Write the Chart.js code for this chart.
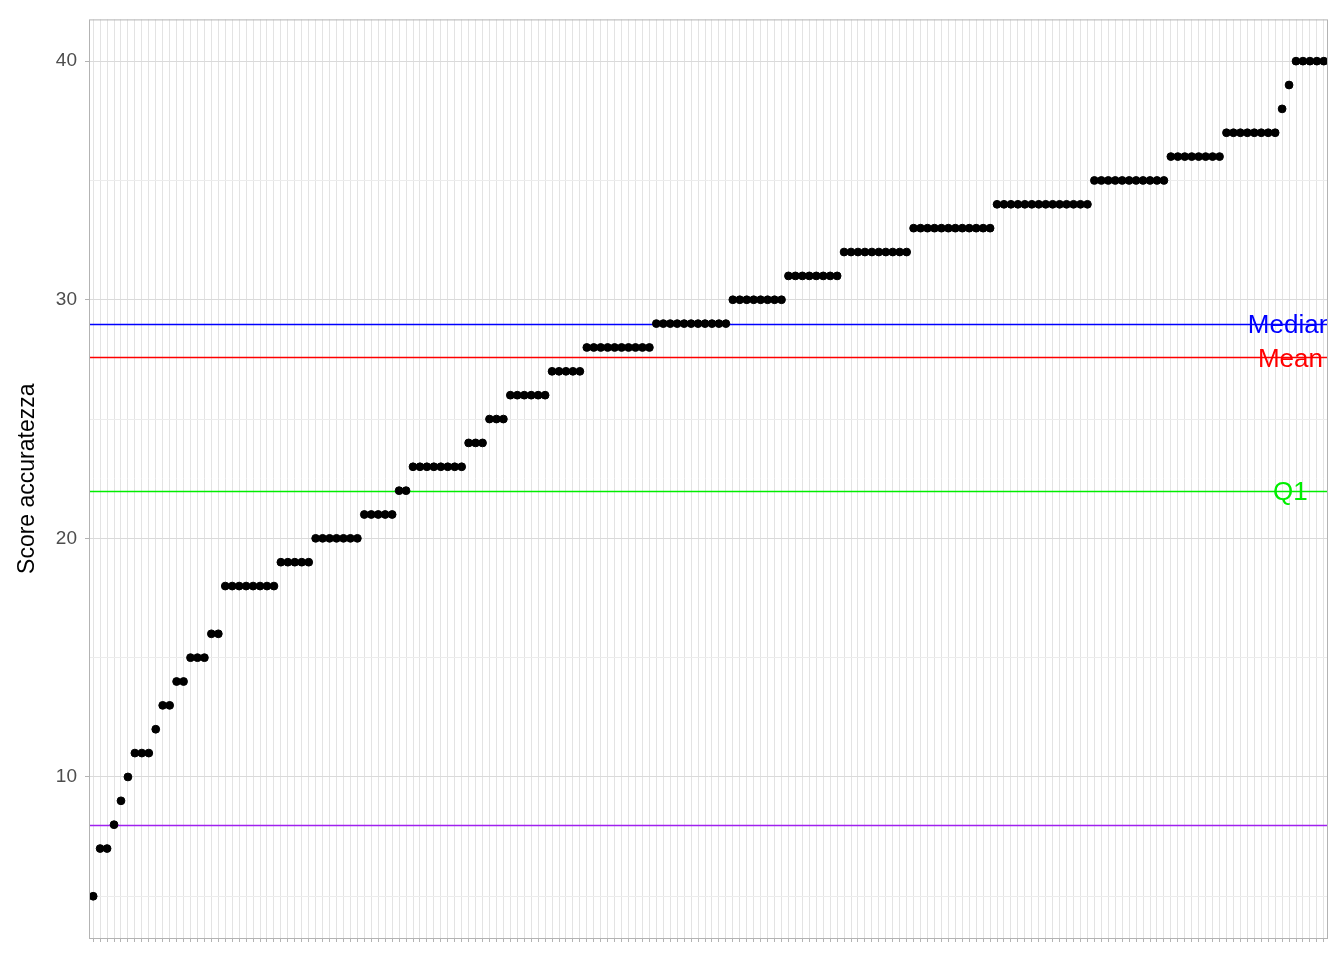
<!DOCTYPE html>
<html><head><meta charset="utf-8">
<script src="https://cdn.jsdelivr.net/npm/chart.js@4/dist/chart.umd.min.js"></script>
<style>html,body{margin:0;padding:0;background:#fff}#wrap{width:1344px;height:960px}</style>
</head><body><div id="wrap"><canvas id="c" width="1344" height="960"></canvas></div>
<script>
const scoreValues = [5,7,8,9,10,11,12,13,14,15,16,18,19,20,21,22,23,24,25,26,27,28,29,30,31,32,33,34,35,36,37,38,39,40];
const scoreCounts = [1,2,1,1,1,3,1,2,2,3,2,8,5,7,5,2,8,3,3,6,5,10,11,8,8,10,12,14,11,8,8,1,1,5];
const refLabels = ['Median','Mean','Q1',''];
const refValues = [29,27.58,22,8];
const refColors = ['#0000ff','#ff0000','#00ee00','#a020f0'];
const yTicks = [10,20,30,40];

const scores = [];
scoreValues.forEach((v,i)=>{for(let k=0;k<scoreCounts[i];k++)scores.push(v);});
const pts = scores.map((v,i)=>({x:i+1,y:v}));
const N = scores.length;

const refPlugin = {
  id:'ref',
  beforeDatasetsDraw(chart){
    const {ctx,chartArea:a,scales:{x,y}} = chart;
    ctx.save();
    ctx.beginPath();ctx.rect(a.left,a.top,a.right-a.left,a.bottom-a.top);ctx.clip();
    refValues.forEach((v,i)=>{
      const py = Math.round(y.getPixelForValue(v))+0.5;
      ctx.strokeStyle=refColors[i];ctx.lineWidth=1.5;
      ctx.beginPath();ctx.moveTo(a.left,py);ctx.lineTo(a.right,py);ctx.stroke();
    });
    ctx.restore();
  },
  afterDatasetsDraw(chart){
    const {ctx,chartArea:a,scales:{x,y}} = chart;
    ctx.save();
    ctx.beginPath();ctx.rect(a.left,a.top,a.right-a.left,a.bottom-a.top);ctx.clip();
    ctx.font='26px "Liberation Sans", Arial, sans-serif';
    ctx.textAlign='center';ctx.textBaseline='middle';
    refValues.forEach((v,i)=>{
      if(!refLabels[i])return;
      ctx.fillStyle=refColors[i];
      ctx.fillText(refLabels[i], x.getPixelForValue(173.2), y.getPixelForValue(v)+2);
    });
    ctx.restore();
    ctx.save();
    ctx.strokeStyle='#b3b3b3';ctx.lineWidth=1;
    ctx.strokeRect(a.left+0.5,a.top+0.5,a.right-a.left-1,a.bottom-a.top);
    ctx.restore();
  }
};

new Chart(document.getElementById('c'),{
  type:'scatter',
  data:{datasets:[{data:pts,backgroundColor:'#000',borderColor:'#000',pointRadius:3.9,pointHoverRadius:3.9}]},
  options:{
    responsive:false,animation:false,
    layout:{padding:{top:14,right:16,left:14,bottom:0}},
    plugins:{legend:{display:false},tooltip:{enabled:false}},
    scales:{
      x:{type:'linear',min:0.4,max:N+0.6,
        afterBuildTicks(s){s.ticks=[];for(let i=1;i<=N;i++)s.ticks.push({value:i});},
        afterFit(s){s.height=22;},
        border:{display:false},
        grid:{color:'#e3e3e3',lineWidth:1,drawTicks:true,tickLength:4,tickColor:'#b3b3b3'},
        ticks:{callback:()=>'' ,autoSkip:false,maxRotation:0}},
      y:{min:3.25,max:41.75,
        afterBuildTicks(s){s.ticks=[5,10,15,20,25,30,35,40].map(v=>({value:v}));},
        afterFit(s){s.width=75;},
        border:{display:false},
        title:{display:true,text:'Score accuratezza',color:'#000',font:{size:23,family:'"Liberation Sans", Arial, sans-serif'},padding:{top:0,bottom:4}},
        grid:{color:c=>yTicks.includes(c.tick.value)?'#dadada':'#ececec',tickLength:4,tickColor:c=>yTicks.includes(c.tick.value)?'#b3b3b3':'rgba(0,0,0,0)'},
        ticks:{callback:v=>yTicks.includes(v)?String(v):'',color:'#4d4d4d',font:{size:19,family:'"Liberation Sans", Arial, sans-serif'},padding:8,autoSkip:false}}
    }
  },
  plugins:[refPlugin]
});
</script></body></html>
